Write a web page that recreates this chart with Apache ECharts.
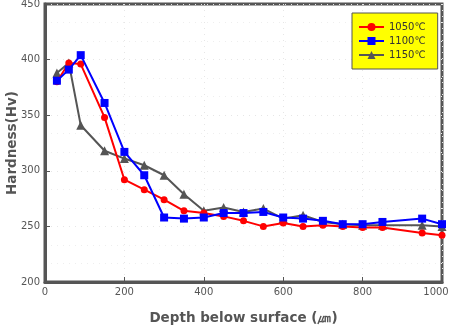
<!DOCTYPE html>
<html>
<head>
<meta charset="utf-8">
<script src="https://cdn.jsdelivr.net/npm/echarts@6/dist/echarts.min.js"></script>
<style>html,body{margin:0;padding:0;background:#fff}#c{width:450px;height:328px}</style>
</head>
<body>
<div id="c"></div>
<script>
var depths = [30, 60, 90, 150, 200, 250, 300, 350, 400, 450, 500, 550, 600, 650, 700, 750, 800, 850, 950, 1000];
var hv1050 = [380, 397, 396, 348, 292, 283, 274, 264, 262, 259, 255, 250, 253, 250, 251, 250, 249, 249, 244, 242];
var hv1100 = [381, 391, 404, 361, 317, 296, 258, 257, 258, 262, 262, 263, 258, 257, 255, 252, 252, 254, 257, 252];
var hv1150 = [388, 397, 341, 318, 311, 305, 296, 279, 264, 267, 263, 266, 257, 260, 254, 252, 251, 251, 251, 250];
var seriesNames = ['1050℃', '1100℃', '1150℃'];
var xTicks = [0, 200, 400, 600, 800, 1000];
var yTicks = [200, 250, 300, 350, 400, 450];

function pairs(xs, ys) { return xs.map(function (x, i) { return [x, ys[i]]; }); }

var font = 'DejaVu Sans';
var xMax = xTicks[xTicks.length - 1];
var chart = echarts.init(document.getElementById('c'), null, { renderer: 'canvas' });
chart.setOption({
  animation: false,
  backgroundColor: '#ffffff',
  textStyle: { fontFamily: font },
  grid: { left: 45, right: 8, top: 4, bottom: 46, containLabel: false, outerBoundsMode: 'none',
    show: true, borderColor: '#555555', borderWidth: 3, backgroundColor: 'transparent' },
  legend: {
    data: seriesNames,
    orient: 'vertical',
    left: 352, top: 13,
    backgroundColor: '#ffff00',
    borderColor: '#555555', borderWidth: 1,
    padding: [9, 12, 9, 6],
    itemWidth: 25, itemHeight: 10, itemGap: 4,
    textStyle: { fontFamily: font, fontSize: 10, color: '#333333' }
  },
  xAxis: {
    type: 'value', min: xTicks[0], max: xMax, interval: xTicks[1] - xTicks[0],
    name: 'Depth below surface (㎛)', nameLocation: 'middle', nameGap: 29, nameMoveOverlap: false,
    nameTextStyle: { fontFamily: font, fontSize: 13.5, fontWeight: 'bold', color: '#555555' },
    axisLine: { show: true, lineStyle: { color: '#555555', width: 3 } },
    axisTick: { show: true, inside: true, length: 5, lineStyle: { color: '#555555', width: 1 } },
    axisLabel: { fontFamily: font, fontSize: 10, color: '#555555', margin: 5,
      formatter: function (v) { return v === xMax ? '{m|' + v + '}' : String(v); },
      rich: { m: { fontFamily: font, fontSize: 10, color: '#555555', padding: [0, 12, 0, 0] } } },
    splitLine: { show: true, lineStyle: { color: '#e6e6e6', type: [1, 5] } }
  },
  yAxis: {
    type: 'value', min: yTicks[0], max: yTicks[yTicks.length - 1], interval: yTicks[1] - yTicks[0],
    name: 'Hardness(Hv)', nameLocation: 'middle', nameGap: 26, nameMoveOverlap: false,
    nameTextStyle: { fontFamily: font, fontSize: 13.5, fontWeight: 'bold', color: '#555555' },
    axisLine: { show: true, lineStyle: { color: '#555555', width: 3 } },
    axisTick: { show: true, inside: true, length: 5, lineStyle: { color: '#555555', width: 1 } },
    axisLabel: { fontFamily: font, fontSize: 10, color: '#555555', margin: 5, formatter: function (v) { return String(v); } },
    splitLine: { show: true, lineStyle: { color: '#e6e6e6', type: [1, 5] } },
    minorTick: { show: false, splitNumber: 3 },
    minorSplitLine: { show: true, lineStyle: { color: '#eeeeee', type: [1, 5] } }
  },
  series: [
    { name: seriesNames[0], type: 'line', data: pairs(depths, hv1050), z: 3,
      symbol: 'circle', symbolSize: 7, showAllSymbol: true,
      lineStyle: { color: '#ff0000', width: 2 }, itemStyle: { color: '#ff0000' } },
    { name: seriesNames[1], type: 'line', data: pairs(depths, hv1100), z: 4,
      symbol: 'rect', symbolSize: 8, showAllSymbol: true,
      lineStyle: { color: '#0000ff', width: 2 }, itemStyle: { color: '#0000ff' } },
    { name: seriesNames[2], type: 'line', data: pairs(depths, hv1150), z: 2,
      symbol: 'triangle', symbolSize: 9, showAllSymbol: true,
      lineStyle: { color: '#555555', width: 2 }, itemStyle: { color: '#555555' } }
  ]
});
</script>
</body>
</html>
